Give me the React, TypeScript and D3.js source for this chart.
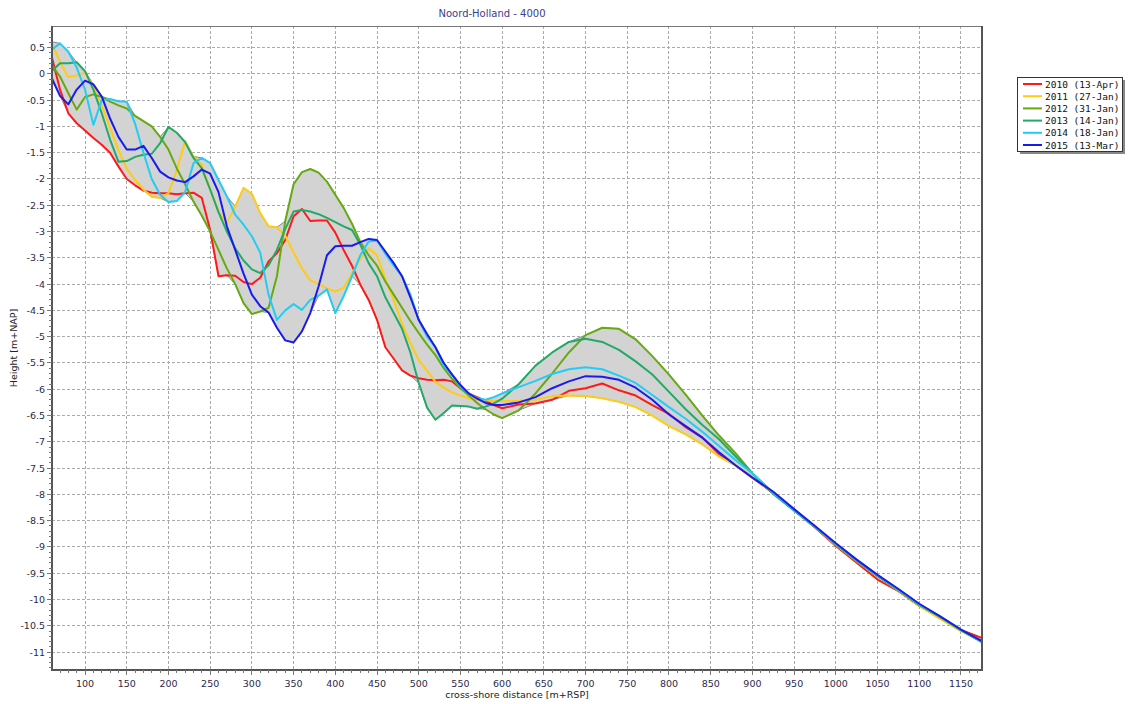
import React from "react";
import * as d3 from "d3";

const TITLE = "Noord-Holland - 4000";
const X_LABEL = "cross-shore distance [m+RSP]";
const Y_LABEL = "Height [m+NAP]";

const distances = [
  60, 70, 80, 90, 100, 110, 120, 130, 140, 150, 160, 170, 180, 190, 200, 210, 220, 230, 240, 250,
  260, 270, 280, 290, 300, 310, 320, 330, 340, 350, 360, 370, 380, 390, 400, 410, 420, 430, 440, 450,
  460, 470, 480, 490, 500, 510, 520, 530, 540, 550, 560, 570, 580, 590, 600,
  620, 640, 660, 680, 700, 720, 740, 760, 780, 800, 820, 840, 860, 880, 900,
  925, 950, 975, 1000, 1025, 1050, 1075, 1100, 1125, 1150, 1175,
];

const y2010 = [
  0.33, -0.3, -0.75, -0.94, -1.08, -1.22, -1.35, -1.5, -1.76, -2.0, -2.12, -2.22, -2.26, -2.27, -2.27, -2.29, -2.27, -2.26, -2.36, -2.97,
  -3.85, -3.83, -3.84, -3.96, -4.0, -3.88, -3.57, -3.41, -3.16, -2.71, -2.57, -2.8, -2.79, -2.79, -3.02, -3.35, -3.65, -4.01, -4.3, -4.68,
  -5.2, -5.42, -5.64, -5.74, -5.79, -5.82, -5.83, -5.82, -5.85, -5.98, -6.08, -6.15, -6.22, -6.3, -6.36,
  -6.29, -6.27, -6.2, -6.03, -5.98, -5.89, -6.02, -6.12, -6.3, -6.47, -6.72, -6.92, -7.23, -7.45, -7.68,
  -7.98, -8.3, -8.63, -8.98, -9.3, -9.62, -9.84, -10.12, -10.34, -10.58, -10.73,
];

const y2011 = [
  0.61, 0.22, -0.06, -0.03, 0.02, -0.24, -0.6, -1.02, -1.45, -1.8, -2.02, -2.2, -2.34, -2.36, -2.27, -1.83, -1.28, -1.57, -1.73, -2.2,
  -2.62, -2.84, -2.52, -2.17, -2.28, -2.65, -2.9, -2.92, -3.08, -3.4, -3.7, -3.93, -4.0, -4.08, -4.14, -4.07, -3.8, -3.52, -3.32, -3.45,
  -3.9, -4.3, -4.75, -5.12, -5.44, -5.65, -5.86, -5.97, -6.06, -6.12, -6.17, -6.2, -6.21, -6.22, -6.23,
  -6.22, -6.2, -6.13, -6.12, -6.13, -6.17, -6.24, -6.34, -6.5, -6.7, -6.86, -7.05, -7.28, -7.45, -7.67,
  -7.97, -8.3, -8.62, -8.96, -9.27, -9.56, -9.83, -10.12, -10.37, -10.6, -10.8,
];

const y2012 = [
  0.17, -0.05, -0.37, -0.68, -0.44, -0.39, -0.44, -0.53, -0.6, -0.66, -0.8, -0.9, -1.0, -1.2, -1.44, -1.8, -2.1, -2.43, -2.7, -3.0,
  -3.35, -3.7, -4.0, -4.36, -4.57, -4.52, -4.45, -3.85, -2.8, -2.1, -1.87, -1.81, -1.88, -2.05, -2.3, -2.55, -2.85, -3.2, -3.45, -3.65,
  -3.95, -4.2, -4.45, -4.7, -4.93, -5.15, -5.35, -5.6, -5.8, -5.98, -6.12, -6.26, -6.38, -6.48, -6.55,
  -6.4, -6.08, -5.7, -5.3, -4.97, -4.83, -4.85, -5.05, -5.37, -5.72, -6.1, -6.5, -6.88, -7.22, -7.6,
  -7.98, -8.3, -8.62, -8.95, -9.26, -9.55, -9.82, -10.1, -10.33, -10.58, -10.8,
];

const y2013 = [
  0.05, 0.2, 0.2, 0.22, 0.05, -0.3, -0.75, -1.25, -1.67, -1.66, -1.58, -1.54, -1.52, -1.32, -1.01, -1.12, -1.3, -1.6, -1.8, -2.2,
  -2.63, -3.0, -3.32, -3.55, -3.72, -3.79, -3.64, -3.35, -2.95, -2.62, -2.59, -2.62, -2.67, -2.74, -2.82, -2.9, -2.97, -3.25, -3.6, -3.85,
  -4.25, -4.55, -4.85, -5.3, -5.88, -6.35, -6.58, -6.45, -6.31, -6.32, -6.33, -6.37, -6.33, -6.27, -6.18,
  -5.9, -5.55, -5.3, -5.1, -5.04, -5.1, -5.25, -5.47, -5.72, -6.05, -6.38, -6.68, -6.95, -7.28, -7.6,
  -7.99, -8.31, -8.62, -8.95, -9.26, -9.55, -9.82, -10.1, -10.33, -10.58, -10.81,
];

const y2014 = [
  0.46, 0.58, 0.42, 0.12, -0.3, -0.97, -0.5, -0.48, -0.52, -0.53, -0.95, -1.5, -2.0, -2.3, -2.44, -2.42, -2.25, -1.7, -1.6, -1.7,
  -2.02, -2.33, -2.68, -2.87, -3.09, -3.4, -4.2, -4.68, -4.5, -4.38, -4.49, -4.3, -4.22, -4.1, -4.55, -4.23, -3.85, -3.45, -3.19, -3.17,
  -3.42, -3.65, -3.85, -4.2, -4.68, -5.0, -5.2, -5.56, -5.72, -5.94, -6.08, -6.17, -6.2, -6.15, -6.08,
  -5.96, -5.84, -5.71, -5.62, -5.58, -5.62, -5.74, -5.88, -6.11, -6.34, -6.56, -6.81, -7.08, -7.35, -7.6,
  -7.97, -8.3, -8.61, -8.94, -9.25, -9.54, -9.81, -10.09, -10.32, -10.57, -10.8,
];

const y2015 = [
  -0.08, -0.42, -0.58, -0.3, -0.13, -0.2, -0.43, -0.85, -1.2, -1.44, -1.44, -1.37, -1.6, -1.86, -1.97, -2.03, -2.06, -1.95, -1.82, -1.9,
  -2.25, -2.9, -3.35, -3.8, -4.2, -4.42, -4.54, -4.83, -5.07, -5.11, -4.9, -4.55, -4.04, -3.45, -3.28, -3.27, -3.27, -3.2, -3.14, -3.16,
  -3.38, -3.6, -3.85, -4.25, -4.68, -4.95, -5.2, -5.5, -5.72, -5.92, -6.08, -6.18, -6.26, -6.3, -6.3,
  -6.25, -6.15, -5.98, -5.85, -5.75, -5.76, -5.82, -5.97, -6.2, -6.48, -6.7, -6.92, -7.2, -7.45, -7.68,
  -7.95, -8.28, -8.6, -8.93, -9.24, -9.53, -9.8, -10.08, -10.32, -10.57, -10.79,
];

const seriesNames = ["2010 (13-Apr)", "2011 (27-Jan)", "2012 (31-Jan)", "2013 (14-Jan)", "2014 (18-Jan)", "2015 (13-Mar)"];
const seriesColors = ["#ff1a1a", "#ffcc11", "#66aa11", "#22aa66", "#22ccf5", "#1a1aee"];
const seriesValues = [y2010, y2011, y2012, y2013, y2014, y2015];

const xTicks = [100, 150, 200, 250, 300, 350, 400, 450, 500, 550, 600, 650, 700, 750, 800, 850, 900, 950, 1000, 1050, 1100, 1150];
const yTicks = [0.5, 0, -0.5, -1, -1.5, -2, -2.5, -3, -3.5, -4, -4.5, -5, -5.5, -6, -6.5, -7, -7.5, -8, -8.5, -9, -9.5, -10, -10.5, -11];

const W = 1128;
const H = 704;
const L = 52, R = 982, T = 26, B = 670;

export default function App() {
  const x = d3.scaleLinear().domain([60.4, 1175.2]).range([L, R]);
  const y = d3.scaleLinear().domain([0.91, -11.34]).range([T, B]);

  const env = distances.map((d, i) => {
    const vals = seriesValues.map((s) => s[i]);
    return { d, lo: d3.min(vals) as number, hi: d3.max(vals) as number };
  });
  const area = d3
    .area<{ d: number; lo: number; hi: number }>()
    .x((p) => x(p.d))
    .y0((p) => y(p.lo))
    .y1((p) => y(p.hi));
  const line = d3
    .line<number>()
    .x((_, i) => x(distances[i]))
    .y((v) => y(v));

  const minorX = d3.range(70, 1175, 10).filter((v) => v % 50 !== 0);
  const minorY = d3.range(-113, 9, 1).map((v) => v / 10).filter((v) => Math.abs((v * 10) % 5) > 0.01);

  const font = "DejaVu Sans, Verdana, sans-serif";

  return (
    <svg width={W} height={H} style={{ position: "absolute", left: 0, top: 0, background: "#fff" }}>
      <defs>
        <clipPath id="plot">
          <rect x={L} y={T} width={R - L} height={B - T} />
        </clipPath>
      </defs>
      <text x={492} y={17} textAnchor="middle" fontFamily={font} fontSize={10} fill="#3c3c8c">
        {TITLE}
      </text>
      {/* grid */}
      <g stroke="#aaaaaa" strokeWidth={1} strokeDasharray="3,2" shapeRendering="crispEdges">
        {xTicks.map((t) => (
          <line key={"gx" + t} x1={x(t)} x2={x(t)} y1={T} y2={B} />
        ))}
        {yTicks.map((t) => (
          <line key={"gy" + t} x1={L} x2={R} y1={y(t)} y2={y(t)} />
        ))}
      </g>
      <g clipPath="url(#plot)">
        <path d={area(env) || ""} fill="#d3d3d3" stroke="#8a8a8a" strokeWidth={1} />
        {seriesValues.map((s, i) => (
          <path key={i} d={line(s) || ""} fill="none" stroke={seriesColors[i]} strokeWidth={2} strokeLinejoin="round" />
        ))}
      </g>
      {/* frame */}
      <rect x={L} y={T} width={R - L} height={B - T} fill="none" stroke="#777" strokeWidth={1} shapeRendering="crispEdges" />
      <line x1={L} x2={L} y1={T} y2={B + 1} stroke="#555" strokeWidth={2} />
      <line x1={L - 1} x2={R + 1} y1={B} y2={B} stroke="#555" strokeWidth={2} />
      <line x1={R} x2={R} y1={T} y2={B} stroke="#555" strokeWidth={2} />
      {/* x ticks */}
      <g stroke="#777" strokeWidth={1} shapeRendering="crispEdges">
        {xTicks.map((t) => (
          <line key={"tx" + t} x1={x(t)} x2={x(t)} y1={B} y2={B + 5} />
        ))}
        {minorX.map((t) => (
          <line key={"mx" + t} x1={x(t)} x2={x(t)} y1={B} y2={B + 3} />
        ))}
        {yTicks.map((t) => (
          <line key={"ty" + t} x1={L - 5} x2={L} y1={y(t)} y2={y(t)} />
        ))}
        {minorY.map((t) => (
          <line key={"my" + t} x1={L - 3} x2={L} y1={y(t)} y2={y(t)} />
        ))}
      </g>
      <g fontFamily={font} fontSize={9.5} fill="#2a2a4a">
        {xTicks.map((t) => (
          <text key={"lx" + t} x={x(t)} y={687} textAnchor="middle">
            {t}
          </text>
        ))}
        {yTicks.map((t) => (
          <text key={"ly" + t} x={45} y={y(t) + 3.5} textAnchor="end">
            {String(t)}
          </text>
        ))}
      </g>
      <text x={517} y={698} textAnchor="middle" fontFamily={font} fontSize={9.5} fill="#222">
        {X_LABEL}
      </text>
      <text
        transform={`translate(17,${(T + B) / 2}) rotate(-90)`}
        textAnchor="middle"
        fontFamily={font}
        fontSize={9.5}
        fill="#222"
      >
        {Y_LABEL}
      </text>
      {/* legend */}
      <g>
        <rect x={1020} y={80} width={105} height={74} fill="#888" />
        <rect x={1017} y={77} width={105} height={74} fill="#fff" stroke="#333" strokeWidth={1} shapeRendering="crispEdges" />
        {seriesNames.map((n, i) => (
          <g key={n}>
            <line x1={1023} x2={1042} y1={84 + i * 12.2} y2={84 + i * 12.2} stroke={seriesColors[i]} strokeWidth={2} />
            <text x={1045} y={87.5 + i * 12.2} fontFamily="DejaVu Sans Mono, monospace" fontSize={9.5} fill="#111">
              {n}
            </text>
          </g>
        ))}
      </g>
    </svg>
  );
}
